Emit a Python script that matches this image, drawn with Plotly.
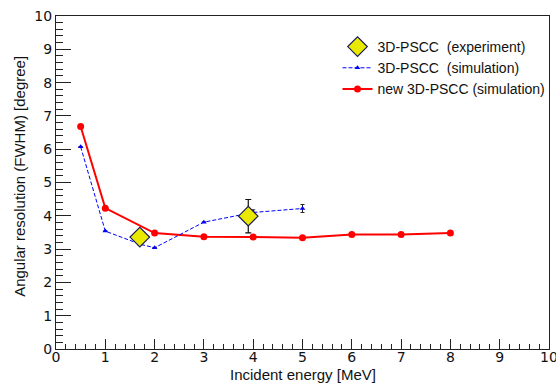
import plotly.graph_objects as go

# Data
new_x = [0.5, 1, 2, 3, 4, 5, 6, 7, 8]
new_y = [6.68, 4.23, 3.48, 3.37, 3.36, 3.34, 3.44, 3.44, 3.48]
new_err = [0, 0, 0, 0, 0, 0, 0, 0, 0.05]

sim_x = [0.5, 1, 1.7, 2, 3, 4, 5]
sim_y = [6.07, 3.54, 3.15, 3.04, 3.81, 4.10, 4.22]
sim_err = [0, 0, 0, 0, 0, 0.08, 0.12]

exp_x = [1.7, 3.9]
exp_y = [3.36, 3.99]
exp_err = [0.0, 0.5]

x_title = "Incident energy [MeV]"
y_title = "Angular resolution (FWHM) [degree]"

FONT = "Liberation Sans, Arial, Helvetica, sans-serif"
TICKFONT = "DejaVu Sans, Liberation Sans, sans-serif"

fig = go.Figure()
fig.add_trace(go.Scatter(
    x=new_x, y=new_y, mode="lines+markers", name="new 3D-PSCC (simulation)",
    line=dict(color="#ff0000", width=2),
    marker=dict(symbol="circle", size=7, color="#ff0000"),
    error_y=dict(type="data", array=new_err, color="#ff0000", thickness=1, width=2),
    legendrank=3,
))
fig.add_trace(go.Scatter(
    x=sim_x, y=sim_y, mode="lines+markers", name="3D-PSCC  (simulation)",
    line=dict(color="#0000ff", width=1, dash="4px,2px"),
    marker=dict(symbol="triangle-up", size=5, color="#0000ff"),
    error_y=dict(type="data", array=sim_err, color="#222222", thickness=1, width=2),
    legendrank=2,
))
fig.add_trace(go.Scatter(
    x=exp_x, y=exp_y, mode="markers", name="3D-PSCC  (experiment)",
    marker=dict(symbol="diamond", size=15, color="#e8e800",
                line=dict(color="#1a1a5a", width=1.2)),
    error_y=dict(type="data", array=exp_err, color="#111111", thickness=1.2, width=3),
    legendrank=1,
))

axis_common = dict(
    range=[0, 10], dtick=1, tick0=0, ticks="inside",
    showline=True, linecolor="#222222", linewidth=1, mirror=True,
    showgrid=False, zeroline=False, automargin=False,
    ticklabeloverflow="allow",
    tickfont=dict(family=TICKFONT, size=14, color="#111111"),
    tickcolor="#222222",
)
fig.update_xaxes(**axis_common, ticklen=10, ticklabelstandoff=-5,
                 minor=dict(dtick=0.2, ticks="inside", ticklen=5, tickcolor="#222222", showgrid=False))
fig.update_yaxes(**axis_common, ticklen=15,
                 minor=dict(dtick=0.2, ticks="inside", ticklen=7, tickcolor="#222222", showgrid=False))

fig.add_annotation(text=x_title, xref="paper", yref="paper", x=0.5, y=0,
                   xanchor="center", yanchor="top", yshift=-16, showarrow=False,
                   borderpad=0,
                   font=dict(family=FONT, size=15, color="#111111"))
fig.add_annotation(text=y_title, xref="paper", yref="paper", x=0, y=0.517,
                   xanchor="center", yanchor="middle", xshift=-36, textangle=-90,
                   showarrow=False, borderpad=0, font=dict(family=FONT, size=15, color="#111111"))

fig.update_layout(
    width=556, height=384,
    margin=dict(l=56, r=7, t=16, b=35, autoexpand=False),
    plot_bgcolor="white", paper_bgcolor="white",
    font=dict(family=FONT, color="#111111"),
    legend=dict(x=0.571, y=0.955, xanchor="left", yanchor="top",
                bgcolor="rgba(0,0,0,0)", font=dict(family=FONT, size=14, color="#111111"),
                tracegroupgap=5),
    hovermode=False,
)

fig.write_html("out.html")
